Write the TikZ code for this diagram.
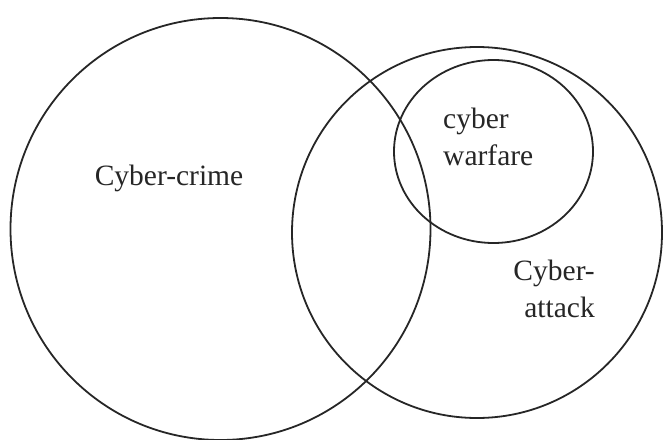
\documentclass[tikz,border=0pt]{standalone}
\usepackage{fontspec}
\setmainfont{Liberation Serif}
\begin{document}
\begin{tikzpicture}[x=1pt,y=-1pt,
  ring/.style={draw=black!85,line width=1.8pt},
  lbl/.style={font=\fontsize{29.5}{37}\selectfont,text=black!85,inner sep=0pt}]
\useasboundingbox (0,0) rectangle (663,439);
\draw[ring] (220.5,229) ellipse [x radius=210,y radius=211];
\draw[ring] (477,232.5) ellipse [x radius=185,y radius=185.5];
\draw[ring] (493.5,151.5) ellipse [x radius=99.5,y radius=91.5];
\node[lbl] (crime) at (169,178) {Cyber-crime};
\node[lbl,align=left,anchor=west] (war) at (443,136.5) {cyber\\warfare};
\node[lbl,align=right,anchor=east] (attack) at (595,288.5) {Cyber-\\attack};
\end{tikzpicture}
\end{document}
